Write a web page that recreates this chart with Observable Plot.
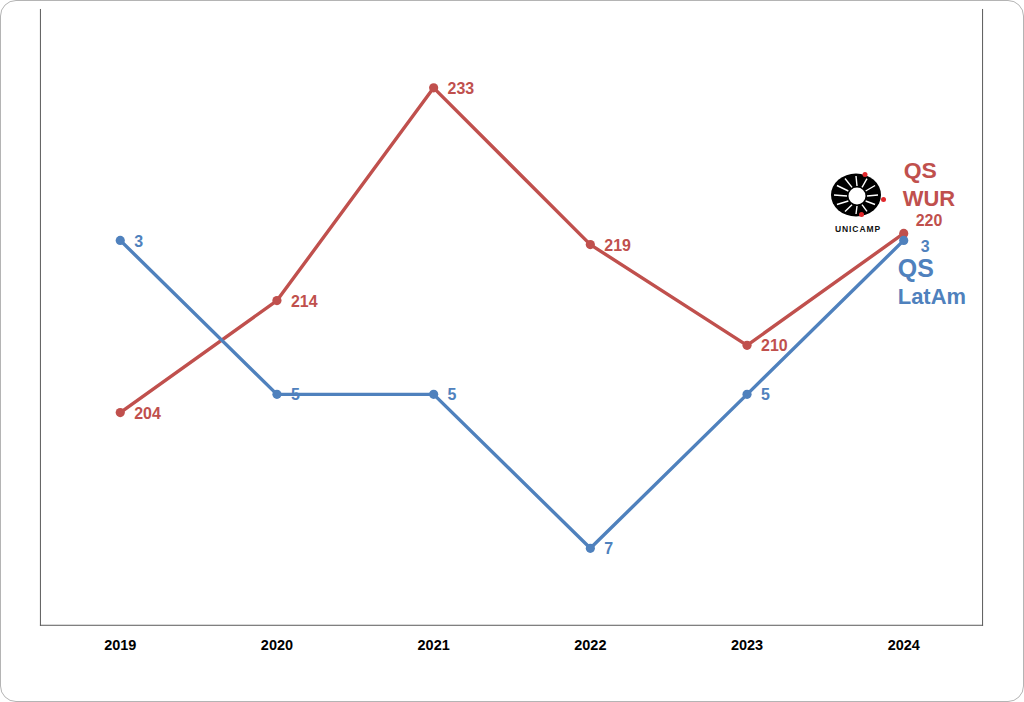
<!DOCTYPE html>
<html>
<head>
<meta charset="utf-8">
<script src="https://cdn.jsdelivr.net/npm/d3@7"></script>
<script src="https://cdn.jsdelivr.net/npm/@observablehq/plot@0.6"></script>
<style>
  html, body { margin: 0; padding: 0; background: #fff; }
  #wrap {
    position: relative; width: 1024px; height: 702px; box-sizing: border-box;
    border: 1.5px solid #b4b4b4; border-radius: 16px; overflow: hidden; background: #fff;
    font-family: "Liberation Sans", Arial, sans-serif;
  }
  #wrap > .layer { position: absolute; left: -1.5px; top: -1.5px; }
</style>
</head>
<body>
<div id="wrap"></div>
<script>
const years = ["2019", "2020", "2021", "2022", "2023", "2024"];
const qsWur = [204, 214, 233, 219, 210, 220];
const qsLatAm = [3, 5, 5, 7, 5, 3];
const seriesNames = { wur: ["QS", "WUR"], latam: ["QS", "LatAm"] };

const RED = "#C0504D";
const BLUE = "#4F81BD";
const FONT = "Liberation Sans, Arial, sans-serif";

const wurData = years.map((y, i) => ({ year: y, value: qsWur[i] }));
const latData = years.map((y, i) => ({ year: y, value: qsLatAm[i] }));
const lastW = [wurData[wurData.length - 1]];
const lastL = [latData[latData.length - 1]];

const common = {
  width: 1024, height: 702,
  marginLeft: 40, marginRight: 40, marginTop: 9, marginBottom: 76,
  x: { type: "point", domain: years, padding: 0.5 },
};

const p1 = Plot.plot({
  ...common,
  style: { fontFamily: FONT, background: "transparent" },
  x: { ...common.x, axis: null, label: null },
  y: { domain: [185, 240], axis: null },
  marks: [
    Plot.frame({ anchor: "left", stroke: "#595959", strokeWidth: 1 }),
    Plot.frame({ anchor: "bottom", stroke: "#595959", strokeWidth: 1 }),
    Plot.frame({ anchor: "right", stroke: "#595959", strokeWidth: 1 }),
    Plot.axisX({ tickSize: 0, tickPadding: 14, fontSize: 14.5, fontWeight: "bold", fill: "#000", color: "#000", label: null }),
    Plot.line(wurData, { x: "year", y: "value", stroke: RED, strokeWidth: 3.4 }),
    Plot.dot(wurData, { x: "year", y: "value", fill: RED, r: 4.6 }),
    Plot.text(wurData.slice(0, -1), { x: "year", y: "value", text: d => String(d.value), dx: 14, dy: 1, textAnchor: "start", fill: RED, fontSize: 16, fontWeight: "bold" }),
    Plot.text(lastW, { x: "year", y: "value", text: d => String(d.value), dx: 12, dy: -13, textAnchor: "start", fill: RED, fontSize: 16, fontWeight: "bold" }),
    Plot.text(lastW, { x: "year", y: "value", text: () => seriesNames.wur[0], dx: 0, dy: -63, textAnchor: "start", fill: RED, fontSize: 23, fontWeight: "bold" }),
    Plot.text(lastW, { x: "year", y: "value", text: () => seriesNames.wur[1], dx: -1, dy: -35, textAnchor: "start", fill: RED, fontSize: 22, fontWeight: "bold" })
  ]
});
p1.classList.add("layer");

const p2 = Plot.plot({
  ...common,
  style: { fontFamily: FONT, background: "transparent" },
  x: { ...common.x, axis: null },
  y: { domain: [0, 8], reverse: true, axis: null },
  marks: [
    Plot.line(latData, { x: "year", y: "value", stroke: BLUE, strokeWidth: 3.4 }),
    Plot.dot(latData, { x: "year", y: "value", fill: BLUE, r: 4.6 }),
    Plot.text(latData.slice(0, -1), { x: "year", y: "value", text: d => String(d.value), dx: 14, dy: 1, textAnchor: "start", fill: BLUE, fontSize: 16, fontWeight: "bold" }),
    Plot.text(lastL, { x: "year", y: "value", text: d => String(d.value), dx: 17, dy: 6, textAnchor: "start", fill: BLUE, fontSize: 16, fontWeight: "bold" }),
    Plot.text(lastL, { x: "year", y: "value", text: () => seriesNames.latam[0], dx: -6, dy: 29, textAnchor: "start", fill: BLUE, fontSize: 25, fontWeight: "bold" }),
    Plot.text(lastL, { x: "year", y: "value", text: () => seriesNames.latam[1], dx: -6, dy: 57, textAnchor: "start", fill: BLUE, fontSize: 22, fontWeight: "bold" })
  ]
});
p2.classList.add("layer");

const wrap = document.getElementById("wrap");
wrap.appendChild(p1);
wrap.appendChild(p2);

// UNICAMP logo (decorative)
const ns = "http://www.w3.org/2000/svg";
const logo = document.createElementNS(ns, "svg");
logo.setAttribute("width", 66);
logo.setAttribute("height", 72);
logo.setAttribute("class", "layer");
logo.style.left = "824.5px";
logo.style.top = "164.5px";
let inner = `<ellipse cx="30" cy="29" rx="25" ry="21.5" fill="#000"/>
<circle cx="31" cy="30" r="8.5" fill="#fff"/>`;
for (let a = 0; a < 360; a += 30) {
  const r = a * Math.PI / 180;
  const x1 = 31 + 10 * Math.cos(r), y1 = 30 + 10 * Math.sin(r);
  const x2 = 30 + 22 * Math.cos(r), y2 = 29 + 19 * Math.sin(r);
  inner += `<line x1="${x1}" y1="${y1}" x2="${x2}" y2="${y2}" stroke="#fff" stroke-width="1.4"/>`;
}
inner += `<circle cx="39" cy="8.5" r="2.5" fill="#e0282c"/>
<circle cx="57.5" cy="33.5" r="2.5" fill="#e0282c"/>
<circle cx="35.5" cy="48.5" r="2.5" fill="#e0282c"/>
<text x="32" y="66" text-anchor="middle" font-family="Liberation Sans, Arial, sans-serif" font-weight="bold" font-size="8.5" letter-spacing="0.9" fill="#111">UNICAMP</text>`;
logo.innerHTML = inner;
wrap.appendChild(logo);
</script>
</body>
</html>
